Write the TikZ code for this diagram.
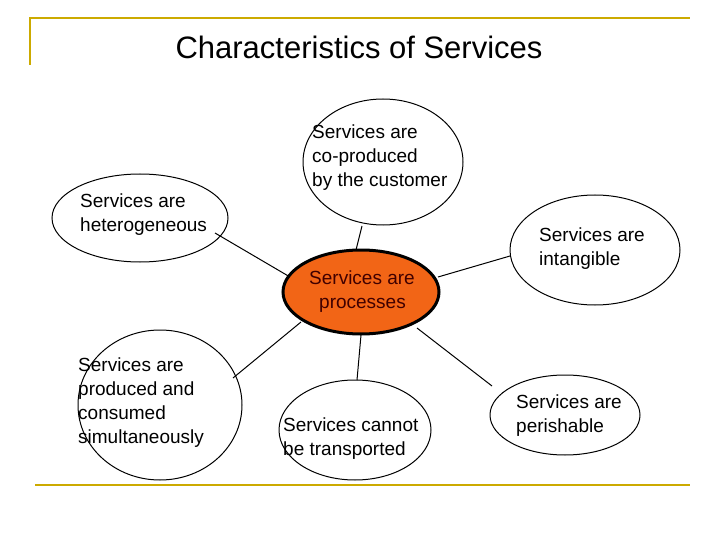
\documentclass[tikz,border=0pt]{standalone}
\usepackage{fontspec}
\setmainfont{Liberation Sans}
\usetikzlibrary{shapes.geometric}
\definecolor{gold}{RGB}{204,170,0}
\definecolor{orng}{RGB}{242,101,22}
\begin{document}
\begin{tikzpicture}[x=1pt,y=-1pt,
  ell/.style={draw,ellipse,line width=1pt,fill=white,inner sep=0pt},
  txt/.style={align=left,font=\fontsize{19}{24}\selectfont,inner sep=0pt},
  conn/.style={line width=1pt}]
\useasboundingbox (0,0) rectangle (720,540);
\draw[gold,line width=1.2pt] (30,65) -- (30,18) -- (690,18);
\draw[gold,line width=1.2pt] (35,485) -- (690,485);
\node (title) at (359,47) {\fontsize{31}{36}\selectfont Characteristics of Services};
% ellipses
\node[ell,minimum width=156pt,minimum height=84pt,fill=orng,line width=3pt] (c) at (361,292) {};
\node[ell,minimum width=160pt,minimum height=126pt] (t) at (383,162) {};
\node[ell,minimum width=176pt,minimum height=88pt] (tl) at (140,218) {};
\node[ell,minimum width=170pt,minimum height=110pt] (r) at (595,250) {};
\node[ell,minimum width=164pt,minimum height=150pt] (bl) at (160,405) {};
\node[ell,minimum width=152pt,minimum height=100pt] (bm) at (355,430) {};
\node[ell,minimum width=150pt,minimum height=80pt] (br) at (565,415) {};
% connector end points
\coordinate (c1) at (356,250); \coordinate (t1) at (362,226);
\coordinate (c2) at (290,277); \coordinate (tl1) at (215,233);
\coordinate (c3) at (438,277); \coordinate (r1) at (510,256);
\coordinate (c4) at (301,322); \coordinate (bl1) at (233,378);
\coordinate (c5) at (361,335); \coordinate (bm1) at (357,380);
\coordinate (c6) at (417,328); \coordinate (br1) at (492,386);
\draw[conn] (c1) -- (t1);
\draw[conn] (c2) -- (tl1);
\draw[conn] (c3) -- (r1);
\draw[conn] (c4) -- (bl1);
\draw[conn] (c5) -- (bm1);
\draw[conn] (c6) -- (br1);
% texts
\node[txt,text=black!75!red] (ct) at (362,292) {Services are\\\hspace*{10pt}processes};
\node[txt,anchor=north west] (tt) at (312,125) {Services are\\co-produced\\by the customer};
\node[txt,anchor=north west] (tlt) at (80,194) {Services are\\heterogeneous};
\node[txt,anchor=north west] (rt) at (539,228) {Services are\\intangible};
\node[txt,anchor=north west] (blt) at (78,358) {Services are\\produced and\\consumed\\simultaneously};
\node[txt,anchor=north west] (bmt) at (283,418) {Services cannot\\be transported};
\node[txt,anchor=north west] (brt) at (516,395) {Services are\\perishable};
\end{tikzpicture}
\end{document}
